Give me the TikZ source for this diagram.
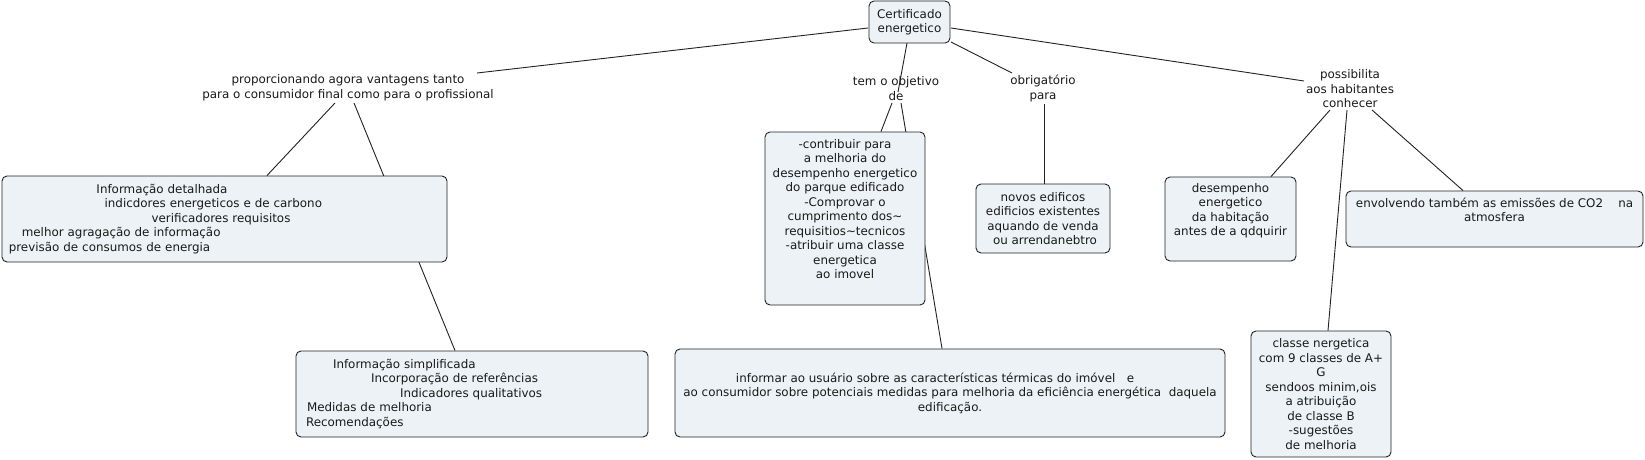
\documentclass[tikz,border=0pt]{standalone}
\usepackage{fontspec}
\setmainfont{DejaVu Sans}
\usetikzlibrary{calc,backgrounds}
\definecolor{boxfill}{HTML}{ECF2F5}
\definecolor{linec}{HTML}{222222}
\definecolor{txt}{HTML}{1A1A1A}
\begin{document}
\begin{tikzpicture}[x=1pt,y=-1pt,
  every node/.style={font=\fontsize{11.9}{14.5}\selectfont, text=txt},
  cbox/.style={draw=linec, fill=boxfill, rounded corners=5pt, line width=0.9pt, inner sep=0pt, align=center},
  lbl/.style={inner sep=0pt, align=center},
  conn/.style={draw=linec, line width=0.9pt}]
\useasboundingbox (0,0) rectangle (1645,460);

% concepts
\node[cbox, minimum width=81pt, minimum height=42pt] (Cert) at (909.5,22) {Certificado\\energetico};

\node[cbox, minimum width=445pt, minimum height=86pt, text width=431.4pt, inner xsep=6.8pt, align=left] (B1) at (224.5,219)
 {\hspace*{87.7pt}Informação detalhada\\
  \hspace*{95.8pt}indicdores energeticos e de carbono\\
  \hspace*{142.8pt}verificadores requisitos\\
  \hspace*{13pt}melhor agragação de informação\\
  previsão de consumos de energia};

\node[cbox, minimum width=352pt, minimum height=86pt, text width=332pt, inner xsep=10pt, align=left] (B2) at (472,394)
 {\hspace*{27pt}Informação simplificada\\
  \hspace*{65pt}Incorporação de referências\\
  \hspace*{94pt}Indicadores qualitativos\\
  \hspace*{1pt}Medidas de melhoria\\
  Recomendações};

\node[cbox, minimum width=160pt, minimum height=173pt] (B3) at (845,218.5)
 {-contribuir para\\a melhoria do\\desempenho energetico\\do parque edificado\\-Comprovar o\\cumprimento dos\textasciitilde\\requisitios\textasciitilde tecnicos\\-atribuir uma classe\\energetica\\ao imovel\\\strut};

\node[cbox, minimum width=550pt, minimum height=88pt] (B4) at (950,393)
 {informar ao usuário sobre as características térmicas do imóvel\ \ \ e\hspace{30pt}\mbox{}\\
  ao consumidor sobre potenciais medidas para melhoria da eficiência energética\ \ daquela\\
  edificação.};

\node[cbox, minimum width=134pt, minimum height=69pt] (B5) at (1043,218.5)
 {novos edificos\\edificios existentes\\aquando de venda\\\hspace*{4pt}ou arrendanebtro};

\node[cbox, minimum width=131pt, minimum height=84pt] (B6) at (1230.5,219)
 {desempenho\\energetico\\da habitação\\antes de a qdquirir\\\strut};

\node[cbox, minimum width=297pt, minimum height=56pt] (B7) at (1494.5,219)
 {envolvendo também as emissões de CO2\ \ \ \ na\\atmosfera\\\strut};

\node[cbox, minimum width=140pt, minimum height=126pt] (B8) at (1321,394)
 {classe nergetica\\com 9 classes de A+\\G\\sendoos minim,ois\\a atribuição\\de classe B\\-sugestões\\de melhoria};

% linking phrases
\node[lbl] (L1) at (348,87.5) {proporcionando agora vantagens tanto\\para o consumidor final como para o profissional};
\node[lbl] (L2) at (896,88.5) {tem o objetivo\\de};
\node[lbl] (L3) at (1043,88.5) {obrigatório\\para};
\node[lbl] (L4) at (1350,89) {possibilita\\aos habitantes\\conhecer};

% connectors
\begin{pgfonlayer}{background}
\fill[white] (0,0) rectangle (1645,460);
\draw[conn] ($(Cert)+(-41.5,6)$) -- ($(L1)+(129,-14.5)$);
\draw[conn] ($(Cert)+(-2.5,21)$) -- ($(L2)+(2,3.5)$);
\draw[conn] ($(Cert)+(41.5,20)$) -- ($(L3)+(-31,-15.5)$);
\draw[conn] ($(Cert)+(41.5,6)$) -- ($(L4)+(-46,-8)$);
\draw[conn] ($(L1)+(-13,15.5)$) -- ($(B1.north)+(42.5,0)$);
\draw[conn] ($(L1)+(6,15.5)$) -- ($(B2.north)+(-17,0)$);
\draw[conn] ($(L2)+(-4,14.5)$) -- ($(B3.north)+(36,0)$);
\draw[conn] ($(L2)+(5,14.5)$) -- ($(B4.north)+(-8,0)$);
\draw[conn] ($(L3)+(1,15.5)$) -- ($(B5.north)+(1,0)$);
\draw[conn] ($(L4)+(-20,21)$) -- ($(B6.north)+(40.5,0)$);
\draw[conn] ($(L4)+(-3,21)$) -- ($(B8.north)+(7,0)$);
\draw[conn] ($(L4)+(22,21)$) -- ($(B7.north)+(-31.5,0)$);
\end{pgfonlayer}
\end{tikzpicture}
\end{document}
